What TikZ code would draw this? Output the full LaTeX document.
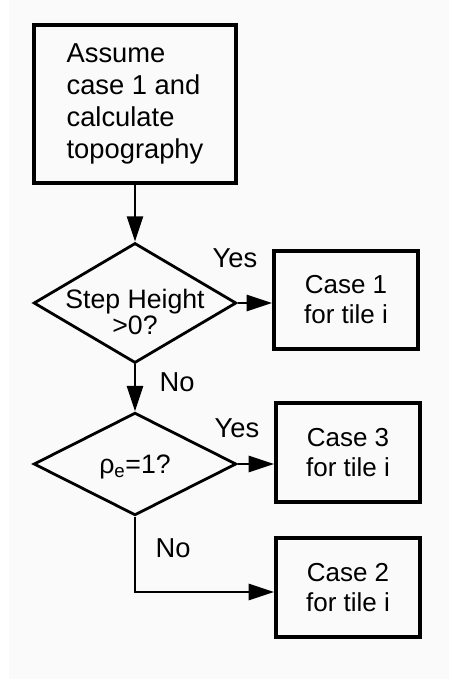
\documentclass[tikz,border=0pt]{standalone}
\usepackage{fontspec}
\setmainfont{Liberation Sans}
\usetikzlibrary{shapes.geometric,arrows.meta}

\tikzset{
  stepbox/.style={draw,line width=3pt,rectangle,minimum width=151pt,minimum height=119pt,inner sep=0pt,font=\fontsize{20.5}{23.8}\selectfont},
  casebox/.style={draw,line width=3pt,rectangle,minimum width=108pt,minimum height=74pt,inner sep=0pt,align=center,font=\fontsize{19.5}{22.5}\selectfont},
  test/.style={draw,line width=2.1pt,diamond,inner sep=0pt},
  testtext/.style={align=center,font=\fontsize{20}{19.5}\selectfont},
  flow/.style={line width=2pt,-{Triangle[length=19pt,width=12pt]}},
  answer/.style={font=\fontsize{20.5}{22}\selectfont}
}

\begin{document}
\begin{tikzpicture}[x=0.75pt,y=-0.75pt]
	\useasboundingbox (0,0) rectangle (451,681);
	\fill[white] (0,0) rectangle (451,681);
	\fill[black!2] (9,0) rectangle (449,679);

	\begin{scope}
		\node[stepbox,align=left] (start) at (135,104) {Assume\\case 1 and\\calculate\\topography};
		\node[test,minimum width=152pt,minimum height=90pt,
			label={[testtext,yshift=-7pt]center:Step Height\\>0?}] (height) at (135,303) {};
		\node[test,minimum width=152pt,minimum height=77pt,
			label={[testtext,yshift=-2pt]center:ρ\textsubscript{e}=1?}] (rho) at (135,464) {};
		\node[casebox] (one) at (346,300) {Case 1\\for tile i};
		\node[casebox] (three) at (348,452.5) {Case 3\\for tile i};
		\node[casebox] (two) at (348,587.5) {Case 2\\for tile i};
	\end{scope}

	\begin{scope}
		\draw[flow] (start) -- (height);
		\draw[flow] (height) -- (one.west |- height.east);
		\draw[flow] (height) -- (rho);
		\draw[flow] (rho) -- (three.west |- rho.east);
		\draw[flow] (rho.south) |- (two.west |- 0,592);
	\end{scope}

	\node[answer] (yes1) at (235,258) {Yes};
	\node[answer] (no1) at (177,382) {No};
	\node[answer] (yes2) at (237,428) {Yes};
	\node[answer] (no2) at (173,548) {No};
\end{tikzpicture}
\end{document}
